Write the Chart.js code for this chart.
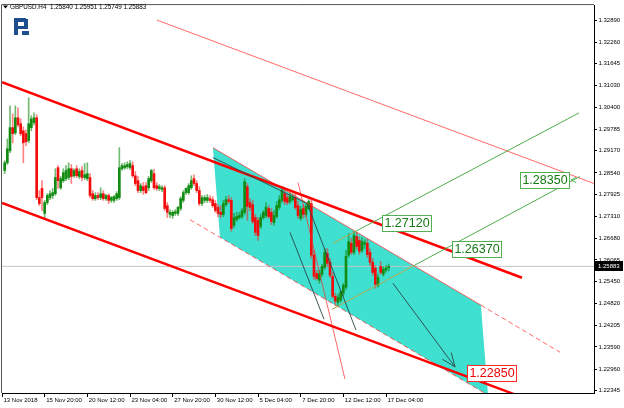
<!DOCTYPE html>
<html>
<head>
<meta charset="utf-8">
<script src="https://cdn.jsdelivr.net/npm/chart.js@4.4.1/dist/chart.umd.min.js"></script>
<style>
  html, body { margin: 0; padding: 0; background: #fff; }
  #wrap { width: 624px; height: 408px; }
</style>
</head>
<body>
<div id="wrap"><canvas id="chart" width="624" height="408"></canvas></div>
<script>
const symbolTitle = 'GBPUSD.H4';

// H4 candles, bar 1 .. 145
const opens = [
  1.2861, 1.2883, 1.2917, 1.2983, 1.2968, 1.3011, 1.2994, 1.2974, 1.2966, 1.2946,
  1.2983, 1.2997, 1.3011, 1.2784, 1.2810, 1.2739, 1.2770, 1.2784, 1.2790, 1.2795,
  1.2869, 1.2812, 1.2832, 1.2838, 1.2841, 1.2866, 1.2846, 1.2866, 1.2844, 1.2861,
  1.2841, 1.2838, 1.2841, 1.2795, 1.2781, 1.2790, 1.2784, 1.2795, 1.2781, 1.2790,
  1.2776, 1.2776, 1.2781, 1.2784, 1.2866, 1.2869, 1.2872, 1.2869, 1.2875, 1.2846,
  1.2832, 1.2804, 1.2815, 1.2818, 1.2812, 1.2832, 1.2852, 1.2818, 1.2810, 1.2807,
  1.2812, 1.2761, 1.2736, 1.2733, 1.2739, 1.2739, 1.2753, 1.2776, 1.2798, 1.2798,
  1.2812, 1.2838, 1.2824, 1.2804, 1.2767, 1.2776, 1.2776, 1.2781, 1.2778, 1.2767,
  1.2756, 1.2742, 1.2736, 1.2764, 1.2778, 1.2776, 1.2705, 1.2722, 1.2727, 1.2730,
  1.2742, 1.2815, 1.2770, 1.2764, 1.2727, 1.2719, 1.2702, 1.2727, 1.2733, 1.2753,
  1.2742, 1.2713, 1.2730, 1.2756, 1.2776, 1.2795, 1.2784, 1.2773, 1.2778, 1.2784,
  1.2761, 1.2725, 1.2753, 1.2736, 1.2753, 1.2767, 1.2620, 1.2568, 1.2549, 1.2566,
  1.2585, 1.2625, 1.2600, 1.2560, 1.2503, 1.2486, 1.2492, 1.2512, 1.2529, 1.2620,
  1.2654, 1.2628, 1.2673, 1.2662, 1.2634, 1.2651, 1.2654, 1.2628, 1.2600, 1.2583,
  1.2534, 1.2588, 1.2566, 1.2577, 1.25840
];
const highs = [
  1.2889, 1.2951, 1.3045, 1.3022, 1.3045, 1.3039, 1.3008, 1.2985, 1.2977, 1.3068,
  1.3017, 1.3025, 1.3020, 1.2804, 1.2832, 1.2776, 1.2795, 1.2804, 1.2810, 1.2866,
  1.2875, 1.2844, 1.2866, 1.2875, 1.2883, 1.2878, 1.2866, 1.2875, 1.2866, 1.2872,
  1.2881, 1.2883, 1.2852, 1.2804, 1.2798, 1.2798, 1.2812, 1.2804, 1.2793, 1.2795,
  1.2787, 1.2790, 1.2801, 1.2926, 1.2881, 1.2883, 1.2886, 1.2889, 1.2886, 1.2858,
  1.2844, 1.2824, 1.2827, 1.2827, 1.2844, 1.2864, 1.2864, 1.2827, 1.2821, 1.2818,
  1.2818, 1.2770, 1.2750, 1.2747, 1.2750, 1.2759, 1.2787, 1.2804, 1.2812, 1.2824,
  1.2846, 1.2849, 1.2832, 1.2815, 1.2790, 1.2790, 1.2793, 1.2790, 1.2787, 1.2776,
  1.2764, 1.2761, 1.2776, 1.2787, 1.2790, 1.2784, 1.2739, 1.2742, 1.2742, 1.2753,
  1.2838, 1.2824, 1.2781, 1.2776, 1.2736, 1.2727, 1.2736, 1.2747, 1.2770, 1.2761,
  1.2753, 1.2747, 1.2773, 1.2790, 1.2812, 1.2804, 1.2793, 1.2798, 1.2795, 1.2795,
  1.2773, 1.2759, 1.2764, 1.2767, 1.2778, 1.2776, 1.2634, 1.2577, 1.2577, 1.2594,
  1.2639, 1.2639, 1.2611, 1.2571, 1.2512, 1.2509, 1.2520, 1.2540, 1.2634, 1.2682,
  1.2668, 1.2688, 1.2685, 1.2673, 1.2671, 1.2665, 1.2665, 1.2639, 1.2611, 1.2591,
  1.2566, 1.2602, 1.2588, 1.2591, 1.25951
];
const lows = [
  1.2852, 1.2878, 1.2912, 1.2940, 1.2963, 1.2985, 1.2960, 1.2883, 1.2932, 1.2940,
  1.2974, 1.2991, 1.2778, 1.2761, 1.2747, 1.2725, 1.2764, 1.2778, 1.2781, 1.2790,
  1.2810, 1.2807, 1.2827, 1.2832, 1.2835, 1.2824, 1.2841, 1.2841, 1.2838, 1.2832,
  1.2835, 1.2832, 1.2784, 1.2776, 1.2776, 1.2778, 1.2778, 1.2776, 1.2776, 1.2767,
  1.2770, 1.2770, 1.2776, 1.2778, 1.2861, 1.2864, 1.2866, 1.2864, 1.2841, 1.2818,
  1.2798, 1.2798, 1.2793, 1.2795, 1.2804, 1.2827, 1.2807, 1.2804, 1.2804, 1.2801,
  1.2747, 1.2727, 1.2727, 1.2725, 1.2733, 1.2733, 1.2747, 1.2770, 1.2793, 1.2793,
  1.2807, 1.2818, 1.2798, 1.2761, 1.2761, 1.2770, 1.2770, 1.2770, 1.2756, 1.2742,
  1.2730, 1.2727, 1.2730, 1.2759, 1.2767, 1.2688, 1.2699, 1.2716, 1.2722, 1.2725,
  1.2736, 1.2719, 1.2747, 1.2710, 1.2676, 1.2662, 1.2696, 1.2722, 1.2727, 1.2725,
  1.2707, 1.2705, 1.2725, 1.2750, 1.2770, 1.2764, 1.2764, 1.2767, 1.2773, 1.2750,
  1.2725, 1.2719, 1.2725, 1.2730, 1.2750, 1.2611, 1.2551, 1.2549, 1.2540, 1.2560,
  1.2580, 1.2588, 1.2557, 1.2498, 1.2478, 1.2475, 1.2486, 1.2503, 1.2523, 1.2614,
  1.2622, 1.2622, 1.2637, 1.2622, 1.2628, 1.2639, 1.2614, 1.2591, 1.2563, 1.2526,
  1.2529, 1.2566, 1.2560, 1.2571, 1.25749
];
const closes = [
  1.2883, 1.2923, 1.2983, 1.2966, 1.3011, 1.2991, 1.2966, 1.2940, 1.2943, 1.2994,
  1.3008, 1.3011, 1.2784, 1.2767, 1.2784, 1.2770, 1.2790, 1.2795, 1.2798, 1.2841,
  1.2832, 1.2838, 1.2855, 1.2861, 1.2866, 1.2844, 1.2861, 1.2846, 1.2858, 1.2841,
  1.2849, 1.2852, 1.2790, 1.2781, 1.2790, 1.2784, 1.2795, 1.2781, 1.2790, 1.2776,
  1.2784, 1.2787, 1.2795, 1.2869, 1.2875, 1.2875, 1.2878, 1.2881, 1.2846, 1.2824,
  1.2804, 1.2818, 1.2804, 1.2798, 1.2838, 1.2861, 1.2812, 1.2810, 1.2815, 1.2812,
  1.2753, 1.2742, 1.2742, 1.2742, 1.2744, 1.2756, 1.2781, 1.2798, 1.2810, 1.2818,
  1.2832, 1.2824, 1.2804, 1.2767, 1.2784, 1.2784, 1.2784, 1.2776, 1.2761, 1.2747,
  1.2739, 1.2736, 1.2767, 1.2778, 1.2773, 1.2696, 1.2727, 1.2730, 1.2733, 1.2747,
  1.2829, 1.2759, 1.2756, 1.2716, 1.2685, 1.2676, 1.2727, 1.2742, 1.2756, 1.2730,
  1.2716, 1.2733, 1.2761, 1.2778, 1.2804, 1.2773, 1.2770, 1.2787, 1.2784, 1.2756,
  1.2733, 1.2750, 1.2736, 1.2759, 1.2773, 1.2620, 1.2560, 1.2554, 1.2568, 1.2588,
  1.2628, 1.2597, 1.2563, 1.2503, 1.2489, 1.2500, 1.2515, 1.2534, 1.2617, 1.2659,
  1.2628, 1.2676, 1.2645, 1.2631, 1.2659, 1.2656, 1.2622, 1.2600, 1.2571, 1.2537,
  1.2557, 1.2571, 1.2580, 1.2583, 1.25883
];

const xTickBars = [0, 16, 32, 48, 64, 80, 96, 112, 128, 144];
const xTickLabels = ['13 Nov 2018', '15 Nov 20:00', '20 Nov 12:00', '23 Nov 04:00', '27 Nov 20:00',
  '30 Nov 12:00', '5 Dec 04:00', '7 Dec 20:00', '12 Dec 12:00', '17 Dec 04:00'];
const yTickValues = [1.32890, 1.32260, 1.31645, 1.31030, 1.30400, 1.29785, 1.29170, 1.28540, 1.27925,
  1.27310, 1.26680, 1.26065, 1.25450, 1.24820, 1.24205, 1.23590, 1.22960, 1.22345];

// drawn objects as [bar, price] points
const channelTop = [[0, 1.3112], [195, 1.2556]];
const channelBottom = [[0, 1.2769], [192, 1.2225]];
const channelOuter = [[58.1, 1.3289], [222, 1.2824]];
const steepRed = [[111, 1.2827], [128.6, 1.2268]];
const darkTrend = [[79.1, 1.2898], [114.4, 1.2767], [132.75, 1.2407]];
const darkShort = [[108, 1.2685], [120.75, 1.2438]];
const forecastArrow = [[146.6, 1.2540], [169.9, 1.2302]];
const greenUpper = [[124.1, 1.2654], [132.6, 1.2688], [216.4, 1.3025]];
const greenLower = [[123.75, 1.2466], [154.35, 1.2590], [216.75, 1.2844]];
const boxTop = [[79.1, 1.2926], [179.6, 1.2478], [209.25, 1.2344]];
const boxBottom = [[70.5, 1.2721], [81.75, 1.2671], [182.25, 1.2222]];
const boxArea = [[79.1, 1.2926], [179.6, 1.2478], [182.25, 1.2222], [81.75, 1.2671]];

const labelPrices = [1.27120, 1.26370, 1.28350, 1.22850];
const labelBars = [142.1, 168.4, 213.4, 174];

const labelStyles = [
  { side: 'left', border: '#52b052', text: '#137a13' },
  { side: 'left', border: '#52b052', text: '#137a13' },
  { side: 'right', border: '#52b052', text: '#137a13' },
  { side: 'left', border: '#ff2a2a', text: '#f00000' }
];

const darkColor = 'rgba(40,70,70,0.9)';
const thinRed = 'rgba(255,40,40,0.7)';
const fontFamily = '"Liberation Sans", Arial, sans-serif';

const candleBars = opens.map((_, k) => k + 1);
const lastK = closes.length - 1;
const lastClose = closes[lastK];
const isUp = k => closes[k] >= opens[k];

const toPoints = pts => pts.map(([b, p]) => ({ x: b, y: p }));
const lineSet = (pts, color, width, order, extra) => Object.assign({
  type: 'line', data: toPoints(pts), borderColor: color, borderWidth: width,
  pointRadius: 0, fill: false, tension: 0, order
}, extra || {});

const overlay = {
  id: 'overlay',
  beforeDatasetsDraw(chart) {
    const { ctx, chartArea: a, scales: { x, y } } = chart;
    ctx.save();
    ctx.beginPath();
    ctx.rect(a.left, a.top, a.right - a.left, a.bottom - a.top);
    ctx.clip();
    ctx.beginPath();
    boxArea.forEach(([b, p], k) => {
      const px = x.getPixelForValue(b), py = y.getPixelForValue(p);
      if (k === 0) ctx.moveTo(px, py); else ctx.lineTo(px, py);
    });
    ctx.closePath();
    ctx.fillStyle = '#40e0d0';
    ctx.fill();
    ctx.restore();
  },
  afterDatasetsDraw(chart) {
    const { ctx, scales: { x, y } } = chart;
    ctx.save();

    // open arrow head at the end of the forecast line
    const [p0, p1] = forecastArrow.slice(-2);
    const x0 = x.getPixelForValue(p0[0]), y0 = y.getPixelForValue(p0[1]);
    const x1 = x.getPixelForValue(p1[0]), y1 = y.getPixelForValue(p1[1]);
    const ang = Math.atan2(y1 - y0, x1 - x0);
    ctx.strokeStyle = darkColor;
    ctx.lineWidth = 1;
    ctx.beginPath();
    [-0.38, 0.38].forEach(d => {
      ctx.moveTo(x1, y1);
      ctx.lineTo(x1 - 15 * Math.cos(ang + d), y1 - 15 * Math.sin(ang + d));
    });
    ctx.stroke();

    // price labels
    ctx.font = '12.5px ' + fontFamily;
    ctx.textAlign = 'center';
    ctx.textBaseline = 'middle';
    labelPrices.forEach((p, k) => {
      const st = labelStyles[k];
      const text = p.toFixed(5);
      const w = Math.round(ctx.measureText(text).width) + 5;
      const h = 17;
      const px = Math.round(x.getPixelForValue(labelBars[k]));
      const py = Math.round(y.getPixelForValue(p));
      const bx = st.side === 'left' ? px + 1 : px - 1 - w;
      const by = py - 8;
      ctx.fillStyle = '#fff';
      ctx.fillRect(bx, by, w, h);
      ctx.strokeStyle = st.border;
      ctx.strokeRect(bx + 0.5, by + 0.5, w - 1, h - 1);
      ctx.fillStyle = st.text;
      ctx.fillText(text, bx + w / 2, py + 1);
      if (st.side === 'right') {
        ctx.beginPath();
        ctx.moveTo(bx + w + 6, py - 2.5);
        ctx.lineTo(bx + w + 1, py);
        ctx.lineTo(bx + w + 6, py + 2.5);
        ctx.stroke();
      }
    });
    ctx.restore();
  },
  afterDraw(chart) {
    const { ctx, chartArea: a, scales: { y } } = chart;
    ctx.save();

    // frame top / left
    ctx.strokeStyle = '#555';
    ctx.lineWidth = 1;
    ctx.beginPath();
    ctx.moveTo(a.left - 0.5, a.bottom);
    ctx.lineTo(a.left - 0.5, a.top - 0.5);
    ctx.lineTo(a.right, a.top - 0.5);
    ctx.stroke();

    // header
    ctx.fillStyle = '#000';
    ctx.beginPath();
    ctx.moveTo(3, 5.5); ctx.lineTo(8, 5.5); ctx.lineTo(5.5, 8.5);
    ctx.closePath();
    ctx.fill();
    ctx.font = '6.3px ' + fontFamily;
    ctx.textAlign = 'left';
    ctx.textBaseline = 'middle';
    const ohlc = [opens[lastK], highs[lastK], lows[lastK], closes[lastK]].map(v => v.toFixed(5)).join(' ');
    ctx.fillText(symbolTitle + '  ' + ohlc, 10, 7.5);

    // logo
    ctx.fillStyle = '#1d4f8f';
    ctx.fillRect(14, 18, 4, 17);
    ctx.fillRect(14, 18, 12, 4);
    ctx.fillRect(24, 19, 4, 10);
    ctx.fillRect(18, 26, 10, 3);
    ctx.fillRect(22, 31, 7, 4);

    // current price tag
    const ty = Math.round(y.getPixelForValue(lastClose));
    ctx.fillStyle = '#000';
    ctx.fillRect(a.right, ty - 5, 29, 10);
    ctx.fillStyle = '#fff';
    ctx.font = '6px ' + fontFamily;
    ctx.fillText(lastClose.toFixed(5), a.right + 4, ty + 0.5);
    ctx.restore();
  }
};

new Chart(document.getElementById('chart'), {
  type: 'bar',
  data: {
    datasets: [
      lineSet([[0, lastClose], [222, lastClose]], '#c4c4c4', 1, 20),
      {
        type: 'bar', order: 12, grouped: false, barThickness: 1,
        data: candleBars.map((b, k) => ({ x: b, y: [lows[k], highs[k]] })),
        backgroundColor: candleBars.map((_, k) => isUp(k) ? 'rgba(20,140,20,0.6)' : 'rgba(255,30,30,0.55)')
      },
      {
        type: 'bar', order: 11, grouped: false, barThickness: 2, minBarLength: 1,
        data: candleBars.map((b, k) => ({ x: b, y: [opens[k], closes[k]] })),
        backgroundColor: candleBars.map((_, k) => isUp(k) ? '#128c12' : '#f20d0d')
      },
      lineSet(boxTop, thinRed, 1, 6, { segment: { borderDash: c => c.p0DataIndex === 1 ? [5, 3] : undefined } }),
      lineSet(boxBottom, thinRed, 1, 6, { borderDash: [5, 3] }),
      lineSet(channelOuter, thinRed, 1, 5),
      lineSet(steepRed, thinRed, 1, 5),
      lineSet(channelTop, '#ff0000', 2.5, 3),
      lineSet(channelBottom, '#ff0000', 2.5, 3),
      lineSet(darkTrend, darkColor, 1, 2),
      lineSet(darkShort, darkColor, 1, 2),
      lineSet(forecastArrow, darkColor, 1, 2),
      lineSet(greenUpper, '#4cae4c', 1, 2, { segment: { borderColor: c => c.p0DataIndex === 0 ? '#b9a94e' : undefined } }),
      lineSet(greenLower, '#4cae4c', 1, 2, { segment: { borderColor: c => c.p0DataIndex === 0 ? '#b9a94e' : undefined } })
    ]
  },
  options: {
    responsive: false,
    animation: false,
    devicePixelRatio: 1,
    layout: { padding: { top: 4, left: 2, right: 0, bottom: 0 } },
    plugins: { legend: { display: false }, tooltip: { enabled: false } },
    events: [],
    scales: {
      x: {
        type: 'linear', min: 0, max: 222, offset: false,
        grid: { drawOnChartArea: false, tickLength: 4, color: '#000', offset: false },
        border: { color: '#000' },
        ticks: {
          autoSkip: false, maxRotation: 0, align: 'start', labelOffset: 1.5, padding: 0,
          color: '#000', font: { size: 6, family: fontFamily },
          callback: (v, k) => xTickLabels[k]
        },
        afterBuildTicks: s => { s.ticks = xTickBars.map(v => ({ value: v })); },
        afterFit: s => { s.height = 15; }
      },
      y: {
        type: 'linear', position: 'right', min: 1.22280, max: 1.33316,
        grid: { drawOnChartArea: false, tickLength: 3, color: '#000' },
        border: { color: '#000' },
        ticks: {
          padding: 1.5, color: '#000', font: { size: 6, family: fontFamily },
          callback: v => v.toFixed(5)
        },
        afterBuildTicks: s => { s.ticks = yTickValues.map(v => ({ value: v })); },
        afterFit: s => { s.width = 30; }
      }
    }
  },
  plugins: [overlay]
});
</script>
</body>
</html>
